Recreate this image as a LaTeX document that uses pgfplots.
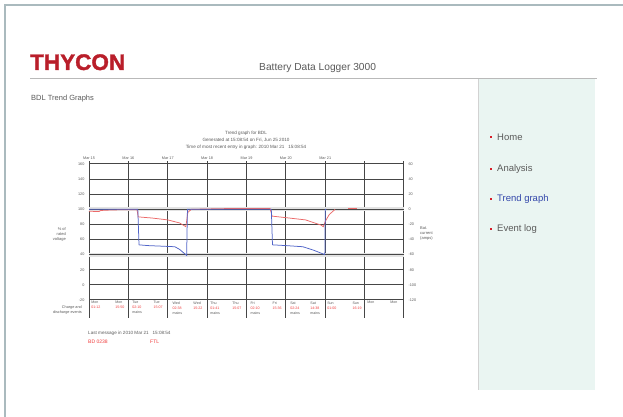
\documentclass[border=0pt]{standalone}
\usepackage{pgfplots}
\pgfplotsset{compat=1.18}
\usepackage{fontspec}
\setmainfont{Liberation Sans}
\newfontfamily\logofont{Liberation Sans Bold}[FakeBold=1.6]
\definecolor{thyred}{RGB}{185,30,42}
\definecolor{framec}{RGB}{170,186,190}
\definecolor{sidebar}{RGB}{234,245,242}
\definecolor{txtgray}{RGB}{90,90,90}
\definecolor{linkblue}{RGB}{50,70,170}
\definecolor{redline}{RGB}{236,105,105}
\definecolor{blueline}{RGB}{80,100,200}
\definecolor{gridc}{RGB}{70,70,70}
\definecolor{evred}{RGB}{240,60,60}
\definecolor{bullet}{RGB}{215,30,40}
\tikzset{evlab/.style={anchor=north west, inner sep=0.3pt, align=left, yshift=-1pt, font=\fontsize{3.6}{5}\selectfont, text=txtgray}}
\begin{document}
\begin{tikzpicture}[x=1pt,y=1pt]
\path[fill=white, use as bounding box] (0,0) rectangle (623,417);
\draw[framec, line width=1.5pt] (5,0) -- (5,412) -- (623,412);
\fill[sidebar] (478,27) rectangle (595,338);
\draw[gray!35, line width=0.8pt] (478,27) -- (478,338);
\draw[gray!55, line width=1pt] (30,338) -- (597,338);
\node[anchor=base west, inner sep=0, font=\fontsize{22.5}{22.5}\logofont, text=thyred] at (30,347) {THYCON};
\node[anchor=base west, inner sep=0, font=\fontsize{10.2}{10.2}\selectfont, text=txtgray] at (259,346) {Battery Data Logger 3000};
\node[anchor=base west, inner sep=0, font=\fontsize{7.5}{7.5}\selectfont, text=txtgray] at (31,316) {BDL Trend Graphs};
% menu
\foreach \yy/\tt/\cc in {280/Home/txtgray, 248/Analysis/txtgray, 218/Trend graph/linkblue, 188/Event log/txtgray}{
  \fill[bullet] (489.8,\yy-1.3) rectangle (492.4,\yy+1.3);
  \node[anchor=west, inner sep=0, font=\fontsize{9.5}{9.5}\selectfont, text=\cc] at (497,\yy) {\tt};
}
% chart titles
\node[font=\fontsize{4.6}{4.6}\selectfont, text=txtgray, inner sep=0] at (246,284) {Trend graph for BDL};
\node[font=\fontsize{4.6}{4.6}\selectfont, text=txtgray, inner sep=0] at (246,277) {Generated at 15:08:54 on Fri, Jun 25 2010};
\node[font=\fontsize{4.6}{4.6}\selectfont, text=txtgray, inner sep=0] at (246,270) {Time of most recent entry in graph: 2010 Mar 21 \ \ 15:08:54};
% axis titles
\node[anchor=east, align=right, font=\fontsize{4}{5}\selectfont, text=txtgray, inner sep=0] at (66,183) {\% of\\rated\\voltage};
\node[anchor=west, align=left, font=\fontsize{4}{5}\selectfont, text=txtgray, inner sep=0] at (420,183) {Bat.\\current\\(amps)};
\node[anchor=east, align=right, font=\fontsize{3.8}{5}\selectfont, text=txtgray, inner sep=0] at (82,107) {Charge and\\discharge events};
% footer texts
\node[anchor=base west, inner sep=0, font=\fontsize{4.6}{4.6}\selectfont, text=txtgray] at (88,82) {Last message in 2010 Mar 21 \ \ 15:08:54};
\node[anchor=base west, inner sep=0, font=\fontsize{5}{5}\selectfont, text=evred] at (88,73) {BD 0238};
\node[anchor=base west, inner sep=0, font=\fontsize{5}{5}\selectfont, text=evred] at (150,73) {FTL};

\begin{axis}[at={(89pt,117pt)}, anchor=south west, scale only axis,
  width=315pt, height=136pt,
  xmin=0, xmax=8, ymin=-20, ymax=160,
  xtick={0,...,8}, ytick={-20,0,...,160},
  grid=major, major grid style={gridc, line width=1pt},
  axis line style={gridc, line width=1pt},
  tick style={draw=none},
  xticklabel pos=upper,
  xticklabels={Mar 15,Mar 16,Mar 17,Mar 18,Mar 19,Mar 20,Mar 21,,},
  ticklabel style={font=\fontsize{3.8}{4}\selectfont, text=txtgray},
  xticklabel style={yshift=0.5pt},
  yticklabel style={xshift=-1pt},
  /pgf/number format/assume math mode=true,
  clip=false]
\draw[gray!22, line width=4pt] (axis cs:0,100) -- (axis cs:8,100);
\draw[gray!22, line width=4pt] (axis cs:0,40) -- (axis cs:8,40);
\draw[gridc, line width=1pt] (axis cs:0,100) -- (axis cs:8,100);
\draw[gridc, line width=1pt] (axis cs:0,40) -- (axis cs:8,40);
\pgfplotsinvokeforeach{0,...,8}{
  \draw[gridc, line width=1pt] (axis cs:#1,-20) -- (axis cs:#1,-43.8);
  \draw[gridc, line width=1pt] (axis cs:#1,160) -- (axis cs:#1,164);
}
\addplot[redline, line width=0.75pt] coordinates {
(0,97.5) (0.25,97) (0.3,98.5) (0.6,99.2) (1.0,99.5) (1.22,99.5)
(1.25,90) (1.6,88.5) (2.0,86) (2.3,82) (2.46,77)
(2.51,96) (2.6,100) (3.0,100.5) (3.5,101) (4.0,101) (4.6,101)
(4.65,91) (5.0,89) (5.5,86) (5.9,79) (5.95,77)
(6.0,84) (6.1,93) (6.25,100)};
\addplot[redline, line width=0.75pt] coordinates {(6.58,101) (6.8,101)};
% event labels
\node[evlab] at (axis cs:0.05,-20) {Mon\\\textcolor{evred}{01:12}};
\node[evlab] at (axis cs:0.66,-20) {Mon\\\textcolor{evred}{15:50}};
\node[evlab] at (axis cs:1.09,-20) {Tue\\\textcolor{evred}{02:10}\\mains};
\node[evlab] at (axis cs:1.63,-20) {Tue\\\textcolor{evred}{15:07}};
\node[evlab] at (axis cs:2.11,-20) {Wed\\\textcolor{evred}{02:38}\\mains};
\node[evlab] at (axis cs:2.64,-20) {Wed\\\textcolor{evred}{15:22}};
\node[evlab] at (axis cs:3.07,-20) {Thu\\\textcolor{evred}{01:41}\\mains};
\node[evlab] at (axis cs:3.63,-20) {Thu\\\textcolor{evred}{15:07}};
\node[evlab] at (axis cs:4.09,-20) {Fri\\\textcolor{evred}{02:10}\\mains};
\node[evlab] at (axis cs:4.65,-20) {Fri\\\textcolor{evred}{15:36}};
\node[evlab] at (axis cs:5.10,-20) {Sat\\\textcolor{evred}{02:24}\\mains};
\node[evlab] at (axis cs:5.61,-20) {Sat\\\textcolor{evred}{14:38}\\mains};
\node[evlab] at (axis cs:6.04,-20) {Sun\\\textcolor{evred}{01:00}};
\node[evlab] at (axis cs:6.68,-20) {Sun\\\textcolor{evred}{16:19}};
\node[evlab] at (axis cs:7.06,-20) {Mon};
\node[evlab] at (axis cs:7.64,-20) {Mon};
\end{axis}

\begin{axis}[at={(89pt,117pt)}, anchor=south west, scale only axis,
  width=315pt, height=136pt,
  xmin=0, xmax=8, ymin=-120, ymax=60,
  axis y line*=right, axis x line=none,
  axis line style={draw=none},
  ytick={-120,-100,...,60},
  tick style={draw=none},
  yticklabel style={font=\fontsize{3.8}{4}\selectfont, text=txtgray, xshift=1pt},
  /pgf/number format/assume math mode=true]
\addplot[blueline, line width=0.75pt] coordinates {
(0,0) (1.24,0) (1.27,-47) (1.5,-48) (2.18,-49.5) (2.3,-53) (2.48,-61)
(2.5,0) (4.63,0) (4.66,-47) (5.0,-48) (5.43,-49.5) (5.7,-54) (5.99,-60)
(6.0,0) (6.03,0)};
\end{axis}
\end{tikzpicture}
\end{document}
